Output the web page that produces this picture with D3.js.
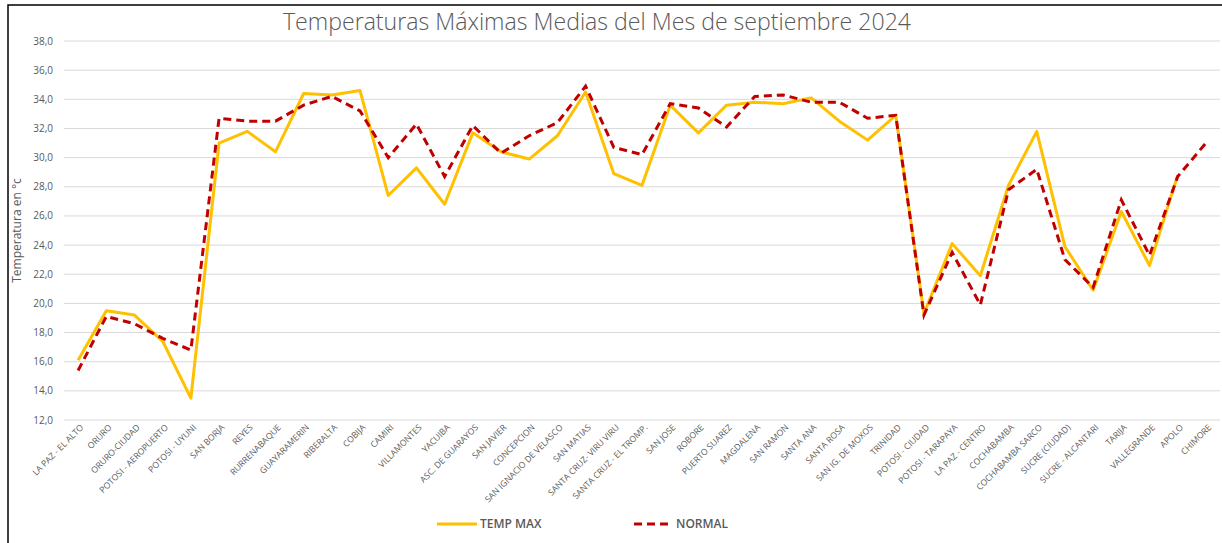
<!DOCTYPE html>
<html>
<head>
<meta charset="utf-8">
<script src="https://cdn.jsdelivr.net/npm/d3@7"></script>
<style>
  body { margin: 0; background: #fff; }
  svg { display: block; font-family: "Open Sans", sans-serif; }
</style>
</head>
<body>
<svg id="chart" width="1222" height="543"></svg>
<script>
// stations, in the order of the reference
const stations = [
    "LA PAZ - EL ALTO", "ORURO", "ORURO-CIUDAD", "POTOSI - AEROPUERTO", "POTOSI - UYUNI",
    "SAN BORJA", "REYES", "RURRENABAQUE", "GUAYARAMERIN", "RIBERALTA",
    "COBIJA", "CAMIRI", "VILLAMONTES", "YACUIBA", "ASC. DE GUARAYOS",
    "SAN JAVIER", "CONCEPCION", "SAN IGNACIO DE VELASCO", "SAN MATIAS", "SANTA CRUZ- VIRU VIRU",
    "SANTA CRUZ - EL TROMP.", "SAN JOSE", "ROBORE", "PUERTO SUAREZ", "MAGDALENA",
    "SAN RAMON", "SANTA ANA", "SANTA ROSA", "SAN IG. DE MOXOS", "TRINIDAD",
    "POTOSI - CIUDAD", "POTOSI - TARAPAYA", "LA PAZ - CENTRO", "COCHABAMBA", "COCHABAMBA SARCO",
    "SUCRE (CIUDAD)", "SUCRE - ALCANTARI", "TARIJA", "VALLEGRANDE", "APOLO",
    "CHIMORE"
];

const tempMax = [
    16.1, 19.5, 19.2, 17.4, 13.5,
    31.0, 31.8, 30.4, 34.4, 34.3,
    34.6, 27.4, 29.3, 26.8, 31.7,
    30.4, 29.9, 31.5, 34.5, 28.9,
    28.1, 33.6, 31.7, 33.6, 33.8,
    33.7, 34.1, 32.5, 31.2, 32.9,
    19.3, 24.1, 21.9, 28.1, 31.8,
    23.9, 20.9, 26.3, 22.6, 28.8,
    null
];

const normal = [
    15.4, 19.1, 18.6, 17.6, 16.8,
    32.7, 32.5, 32.5, 33.6, 34.2,
    33.2, 30.0, 32.3, 28.7, 32.2,
    30.3, 31.5, 32.4, 34.9, 30.7,
    30.2, 33.7, 33.4, 32.1, 34.2,
    34.3, 33.8, 33.8, 32.7, 32.9,
    19.2, 23.5, 19.9, 27.8, 29.2,
    23.0, 21.1, 27.1, 23.3, 28.7,
    31.0
];

const yTicks = [12, 14, 16, 18, 20, 22, 24, 26, 28, 30, 32, 34, 36, 38];

const svg = d3.select("#chart");

const plotLeft = 64, plotRight = 1220,
    plotTop = 41, plotBottom = 420;

const x = d3.scalePoint()
    .domain(stations)
    .range([plotLeft, plotRight])
    .padding(0.5);

const y = d3.scaleLinear()
    .domain([12, 38])
    .range([plotBottom, plotTop]);

// frame
svg.append("path")
    .attr("d", "M8,543 V5 H1222")
    .attr("fill", "none")
    .attr("stroke", "#000")
    .attr("stroke-width", 1.5);

// gridlines
svg.append("g")
    .selectAll("line")
    .data(yTicks)
    .join("line")
        .attr("x1", plotLeft)
        .attr("x2", plotRight)
        .attr("y1", d => y(d))
        .attr("y2", d => y(d))
        .attr("stroke", "#d9d9d9")
        .attr("stroke-width", 1);

// y tick labels
svg.append("g")
    .selectAll("text")
    .data(yTicks)
    .join("text")
        .attr("x", 53)
        .attr("y", d => y(d))
        .attr("dy", "0.35em")
        .attr("text-anchor", "end")
        .attr("fill", "#595959")
        .attr("font-size", 10)
        .text(d => d3.format(".1f")(d).replace(".", ","));

// y title
svg.append("text")
    .attr("transform", "translate(21," + ((plotTop + plotBottom) / 2) + ") rotate(-90)")
    .attr("text-anchor", "middle")
    .attr("fill", "#595959")
    .attr("font-size", 12)
    .text("Temperatura en °c");

// x labels, rotated
svg.append("g")
    .selectAll("text")
    .data(stations)
    .join("text")
        .attr("transform", d => "translate(" + (x(d) + 6) + "," + 428 + ") rotate(-45)")
        .attr("text-anchor", "end")
        .attr("fill", "#595959")
        .attr("font-size", 8.6)
        .text(d => d);

// title
svg.append("text")
    .attr("x", 597)
    .attr("y", 30)
    .attr("text-anchor", "middle")
    .attr("fill", "#595959")
    .attr("font-size", 23)
    .attr("font-weight", 300)
    .attr("textLength", 628)
    .attr("lengthAdjust", "spacingAndGlyphs")
    .text("Temperaturas Máximas Medias del Mes de septiembre 2024");

const line = d3.line()
    .defined(d => d.v != null)
    .x(d => x(d.name))
    .y(d => y(d.v));

svg.append("path")
    .datum(stations.map((s, i) => ({ name: s, v: tempMax[i] })))
    .attr("d", line)
    .attr("fill", "none")
    .attr("stroke", "#ffc000")
    .attr("stroke-width", 3)
    .attr("stroke-linejoin", "round");

svg.append("path")
    .datum(stations.map((s, i) => ({ name: s, v: normal[i] })))
    .attr("d", line)
    .attr("fill", "none")
    .attr("stroke", "#c00000")
    .attr("stroke-width", 3)
    .attr("stroke-dasharray", "8,5");

// legend
const legend = svg.append("g");

legend.append("line")
    .attr("x1", 437).attr("x2", 477)
    .attr("y1", 524).attr("y2", 524)
    .attr("stroke", "#ffc000")
    .attr("stroke-width", 3);
legend.append("text")
    .attr("x", 480).attr("y", 524)
    .attr("dy", "0.35em")
    .attr("fill", "#595959")
    .attr("font-size", 12)
    .attr("font-weight", 600)
    .text("TEMP MAX");

legend.append("line")
    .attr("x1", 634).attr("x2", 672)
    .attr("y1", 524).attr("y2", 524)
    .attr("stroke", "#c00000")
    .attr("stroke-width", 3)
    .attr("stroke-dasharray", "8,5");
legend.append("text")
    .attr("x", 676).attr("y", 524)
    .attr("dy", "0.35em")
    .attr("fill", "#595959")
    .attr("font-size", 12)
    .attr("font-weight", 600)
    .text("NORMAL");
</script>
</body>
</html>
